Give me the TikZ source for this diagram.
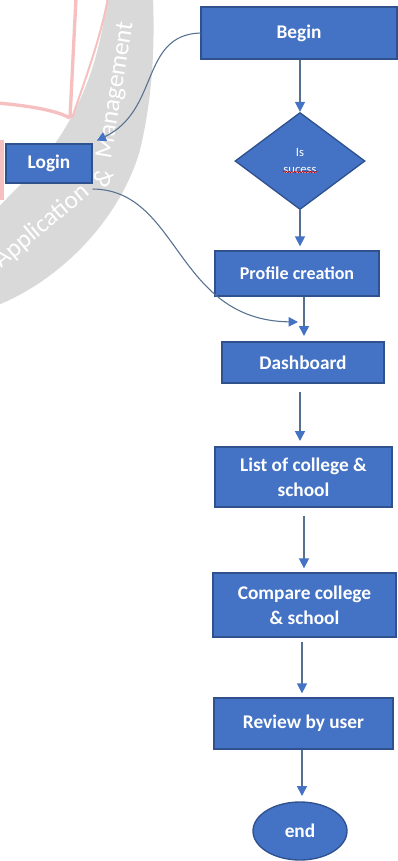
\documentclass[tikz,border=0pt]{standalone}
\usepackage{fontspec}
\setmainfont{Carlito}
\usetikzlibrary{shapes.geometric,arrows.meta,calc,decorations.pathmorphing}
\definecolor{boxblue}{HTML}{4472C4}
\definecolor{boxedge}{HTML}{2F528F}
\definecolor{linec}{HTML}{56708F}
\definecolor{tipc}{HTML}{4472C4}
\definecolor{wmgray}{HTML}{D9D9D9}
\definecolor{wmpink}{HTML}{F6C0C0}
\def\PX{0.75pt}
\begin{document}
\begin{tikzpicture}[x=0.75pt,y=-0.75pt,
  fbox/.style={draw=boxedge, line width=1pt, fill=boxblue, text=white,
    font=\fontsize{14.5}{18.5}\selectfont\bfseries, align=center, inner sep=0pt},
  wmtext/.style={text=white, font=\fontsize{19}{19}\selectfont, inner sep=0pt},
  arr/.style={draw=linec, line width=1.2pt, -{Triangle[length=7.5pt,width=7.5pt,color=tipc]}},
  carr/.style={draw=linec, line width=0.8pt, -{Triangle[length=7pt,width=7pt,color=tipc]}}]
\useasboundingbox (0,0) rectangle (398,861);
\fill[white] (0,0) rectangle (398,861);

% watermark
\begin{scope}
\clip (0,0) rectangle (398,861);
\fill[wmgray] (107,-2) .. controls (100,60) and (80,120) .. (30,175)
  .. controls (15,190) and (5,200) .. (-2,208) -- (-2,305)
  .. controls (60,280) and (120,220) .. (140,150)
  .. controls (152,100) and (155,50) .. (153,-2) -- cycle;
\draw[wmpink, line width=2.5pt] (-2,103) .. controls (30,106) and (55,110) .. (70,118);
\draw[wmpink, line width=2.5pt] (70,118) -- (76,-2);
\draw[wmpink, line width=1.5pt] (72,118) .. controls (85,80) and (100,40) .. (108,-2);
\draw[wmpink, line width=4pt] (1,140) -- (1,200);
\node[wmtext, rotate=40] (wm1) at (42,226) {Application};
\node[wmtext, rotate=62] (wm2) at (103,178) {\&};
\node[wmtext, rotate=81] (wm3) at (116,90) {Management};
\end{scope}

% nodes
\node[fbox, minimum width=196*\PX, minimum height=52*\PX] (begin) at (299,33) {Begin};
\node[draw=boxedge, line width=1pt, fill=boxblue, text=white, shape=diamond,
  minimum width=130*\PX, minimum height=97*\PX, inner sep=0pt, aspect=1.34,
  align=center, font=\fontsize{9.5}{12.75}\selectfont] (dia) at (300,161) {Is\\sucess};
\node[fbox, minimum width=86*\PX, minimum height=39*\PX] (login) at (49,163.5) {Login};
\node[fbox, minimum width=164*\PX, minimum height=45*\PX, font=\fontsize{13.5}{16}\selectfont\bfseries] (profile) at (297,273.5) {Profile creation};
\node[fbox, minimum width=162*\PX, minimum height=41*\PX] (dash) at (303,362.5) {Dashboard};
\node[fbox, minimum width=177*\PX, minimum height=60*\PX] (list) at (303.5,477) {List of college \&\\school};
\node[fbox, minimum width=183*\PX, minimum height=64*\PX] (comp) at (304.5,605) {Compare college\\\& school};
\node[fbox, minimum width=179*\PX, minimum height=51*\PX] (review) at (303.5,723.5) {Review by user};
\node[fbox, ellipse, minimum width=94*\PX, minimum height=58*\PX] (end) at (300,831) {end};

% spell-check squiggle
\draw[red!80!black, line width=0.5pt, decorate,
  decoration={snake, amplitude=0.5pt, segment length=2pt}]
  ($(dia.center)+(-17,11)$) -- ($(dia.center)+(17,11)$);

% column coordinates
\coordinate (c300) at (300,0);
\coordinate (c302) at (302,0);
\coordinate (c304) at (304,0);
\coordinate (merge) at (298,322);

% straight connectors
\draw[arr] (begin.south -| c300) -- (dia.north);
\draw[arr] (dia.south) -- ([yshift=3]profile.north -| c300);
\draw[arr] (profile.south -| c304) -- ([yshift=4]dash.north -| c304);
\draw[arr, shorten <=6pt] (dash.south -| c300) -- ([yshift=4]list.north -| c300);
\draw[arr, shorten <=6pt] (list.south -| c304) -- ([yshift=3]comp.north -| c304);
\draw[arr, shorten <=3pt] (comp.south -| c302) -- ([yshift=3]review.north -| c302);
\draw[arr] (review.south -| c302) -- ([yshift=4]end.north -| c302);

% curved connectors
\draw[carr] (begin.west) .. controls (140,35) and (160,110) .. ([xshift=3,yshift=2]login.north east);
\draw[carr] ([yshift=-4]login.south east) .. controls (180,190) and (175,320) .. (merge);
\end{tikzpicture}
\end{document}
